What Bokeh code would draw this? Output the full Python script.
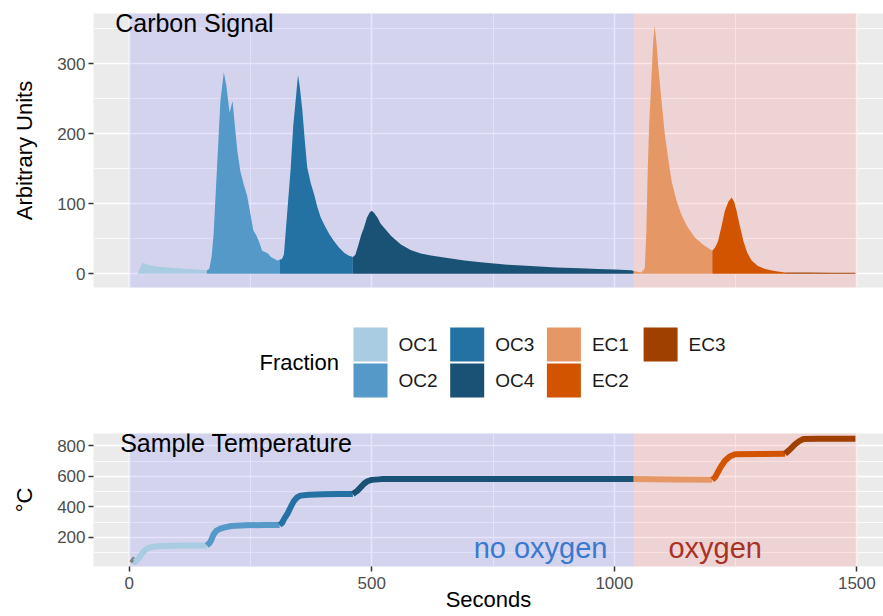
from bokeh.plotting import figure
from bokeh.layouts import column
from bokeh.models import Range1d, FixedTicker, Label
from bokeh.embed import file_html
from bokeh.resources import INLINE
from bokeh.core.properties import value

FONT = "Liberation Sans"

# ---------------- data ----------------
fractions = ["OC1", "OC2", "OC3", "OC4", "EC1", "EC2", "EC3"]
fraction_colors = ["#A9CCE3", "#5499C7", "#2471A3", "#1A5276", "#E59866", "#D35400", "#A04000"]
# fraction boundaries in seconds (start of OC1 ... end of EC3)
fraction_bounds = [10, 160, 310, 461, 1040, 1202, 1352, 1497]
oxygen_switch = 1040
run_end = 1500

# carbon signal (arbitrary units)
sig_t = [18, 22, 28, 34, 45, 60, 80, 100, 120, 140, 160,
         165, 170, 174, 181, 188, 195, 200, 207, 213, 218, 223, 229, 236, 243, 250, 256, 262, 268, 274, 280, 286, 292, 300, 305, 310,
         315, 319, 326, 333, 338, 343, 348, 352, 357, 362, 367, 374, 381, 388, 395, 405, 413, 422, 432, 443, 452, 461,
         466, 472, 478, 484, 490, 496, 500, 505, 512, 518, 525, 540, 560, 580, 601, 622, 663, 691, 730, 780, 828, 880, 930, 966, 1000, 1035, 1040,
         1055, 1060, 1063, 1066, 1069, 1072, 1076, 1080, 1083, 1087, 1090, 1094, 1099, 1104, 1111, 1118, 1128, 1138, 1150, 1166, 1184, 1202,
         1208, 1214, 1221, 1228, 1235, 1242, 1247, 1252, 1259, 1266, 1274, 1283, 1296, 1311, 1330, 1352,
         1400, 1450, 1497]
sig_y = [0, 8, 16, 14, 12, 10, 9, 8, 7, 6, 5,
         7, 25, 57, 152, 247, 288, 270, 230, 247, 210, 175, 147, 128, 112, 85, 62, 55, 45, 33, 31, 29, 24, 21, 19, 20,
         21, 28, 90, 152, 210, 247, 284, 265, 233, 190, 152, 130, 114, 95, 80, 66, 56, 47, 38, 30, 26, 24,
         27, 40, 55, 66, 80, 88, 90, 87, 80, 72, 66, 54, 42, 34, 29, 26, 22, 19, 16, 13, 11, 9, 8, 7, 6, 5, 4,
         2, 5, 9, 60, 152, 215, 271, 330, 354, 330, 300, 271, 235, 200, 165, 133, 105, 85, 68, 52, 41, 33,
         38, 47, 68, 90, 103, 109, 103, 90, 68, 47, 30, 19, 11, 7, 4, 2,
         2, 1.5, 1.5]

# sample temperature (deg C)
temp_t = [4, 10,
          12, 20, 30, 38, 45, 60, 90, 120, 150, 160,
          166, 170, 174, 180, 188, 195, 210, 240, 280, 310,
          315, 320, 326, 333, 340, 346, 353, 370, 400, 430, 461,
          470, 477, 484, 491, 500, 520, 600, 800, 1040,
          1120, 1202,
          1208, 1214, 1220, 1228, 1238, 1249, 1300, 1352,
          1360, 1373, 1382, 1390, 1420, 1497]
temp_c = [60, 46,
          40, 65, 110, 130, 137, 143, 146, 147, 148, 148,
          165, 190, 220, 245, 258, 265, 275, 280, 282, 282,
          295, 325, 354, 400, 441, 462, 474, 480, 483, 484, 485,
          505, 528, 552, 568, 577, 582, 583, 582, 582,
          580, 578,
          595, 630, 665, 702, 730, 745, 747, 748,
          770, 811, 832, 844, 846, 846]

x_ticks = [0, 500, 1000, 1500]
x_minor = [250, 750, 1250]
sig_ticks = [0, 100, 200, 300]
sig_minor = [50, 150, 250, 350]
temp_ticks = [200, 400, 600, 800]
temp_minor = [100, 300, 500, 700]


def segment(ts, vs, lo, hi):
    pts = [(t, v) for t, v in zip(ts, vs) if lo <= t <= hi]
    return [p[0] for p in pts], [p[1] for p in pts]


def style(p, yticks, yminor):
    p.background_fill_color = "#ebebeb"
    p.border_fill_color = "white"
    p.outline_line_color = None
    p.xaxis.ticker = FixedTicker(ticks=x_ticks, minor_ticks=x_minor)
    p.yaxis.ticker = FixedTicker(ticks=yticks, minor_ticks=yminor)
    p.xgrid.ticker = FixedTicker(ticks=x_ticks, minor_ticks=x_minor)
    p.ygrid.ticker = FixedTicker(ticks=yticks, minor_ticks=yminor)
    for g in (p.xgrid, p.ygrid):
        g.grid_line_color = "white"
        g.grid_line_width = 1.6
        g.minor_grid_line_color = "white"
        g.minor_grid_line_width = 0.8
    for ax in (p.xaxis, p.yaxis):
        ax.axis_line_color = None
        ax.major_tick_out = 5
        ax.major_tick_in = 0
        ax.minor_tick_out = 0
        ax.minor_tick_in = 0
        ax.major_tick_line_color = "#333333"
        ax.major_tick_line_width = 1.5
        ax.major_label_text_font = FONT
        ax.major_label_text_font_size = "17px"
        ax.major_label_text_color = "#4d4d4d"
        ax.axis_label_text_font = FONT
        ax.axis_label_text_font_size = "22px"
        ax.axis_label_text_font_style = "normal"
        ax.axis_label_text_color = "black"
    p.yaxis.major_label_standoff = 3
    p.yaxis.axis_label_standoff = 17


def shading(p):
    p.quad(left=[0], right=[oxygen_switch], bottom=[-10000], top=[10000],
           fill_color="blue", fill_alpha=0.1, line_color=None)
    p.quad(left=[oxygen_switch], right=[run_end], bottom=[-10000], top=[10000],
           fill_color="red", fill_alpha=0.1, line_color=None)


W = 883
BL = 93
XR = (-73.6, 1554.9)

# ---------------- top: carbon signal ----------------
p1 = figure(width=W, height=293, x_range=Range1d(*XR), y_range=Range1d(-19.6, 371.9),
            output_backend="svg", toolbar_location=None,
            min_border_left=BL, min_border_right=0, min_border_top=13, min_border_bottom=6)
style(p1, sig_ticks, sig_minor)
p1.xaxis.visible = False
p1.yaxis.axis_label = "Arbitrary Units"
shading(p1)
for i, (name, col) in enumerate(zip(fractions, fraction_colors)):
    st, sy = segment(sig_t, sig_y, fraction_bounds[i], fraction_bounds[i + 1])
    p1.varea(x=st, y1=[0] * len(st), y2=sy, fill_color=col)
p1.add_layout(Label(x=-28.9, y=358.5, text="Carbon Signal", text_font=FONT, text_font_size="25px",
                    text_color="black", text_baseline="alphabetic"))

# ---------------- legend (coordinates in page pixels) ----------------
LT, LB = 293, 415
leg = figure(width=W, height=LB - LT, x_range=Range1d(BL, W), y_range=Range1d(LB, LT),
             output_backend="svg", toolbar_location=None,
             min_border_left=BL, min_border_right=0, min_border_top=0, min_border_bottom=0,
             x_axis_location=None, y_axis_location=None)
leg.grid.visible = False
leg.outline_line_color = None
leg.background_fill_color = "white"
col_x0, col_dx, row_y0, row_dy, key = 370, 96.7, 344, 36, 34
kx, ky, lx = [], [], []
for i in range(len(fractions)):
    c, r = divmod(i, 2)
    kx.append(col_x0 + c * col_dx)
    ky.append(row_y0 + r * row_dy)
    lx.append(col_x0 + c * col_dx + 28)
leg.rect(x=kx, y=ky, width=key, height=key, fill_color=fraction_colors, line_color=None)
leg.text(x=lx, y=ky, text=fractions, text_font=value(FONT), text_font_size="19px",
         text_color="#1a1a1a", text_baseline="middle", text_align="left")
leg.text(x=[259], y=[(ky[0] + ky[1]) / 2], text=["Fraction"], text_font=value(FONT),
         text_font_size="22px", text_color="black", text_baseline="middle", text_align="left")

# ---------------- bottom: temperature ----------------
p2 = figure(width=W, height=616 - LB, x_range=Range1d(*XR), y_range=Range1d(10.2, 880.5),
            output_backend="svg", toolbar_location=None,
            min_border_left=BL, min_border_right=0, min_border_top=18, min_border_bottom=50)
style(p2, temp_ticks, temp_minor)
p2.xaxis.axis_label = "Seconds"
p2.xaxis.major_label_standoff = 5
p2.xaxis.axis_label_standoff = -5
p2.yaxis.axis_label = "°C"
shading(p2)
pt, pc = segment(temp_t, temp_c, 0, fraction_bounds[0])
p2.line(pt, pc, line_width=6, color="#808080")
for i, col in enumerate(fraction_colors):
    tt, tc = segment(temp_t, temp_c, fraction_bounds[i], fraction_bounds[i + 1])
    p2.line(tt, tc, line_width=6, color=col, line_join="round")
p2.add_layout(Label(x=-18.6, y=817, text="Sample Temperature", text_font=FONT, text_font_size="25px",
                    text_color="black", text_baseline="alphabetic"))
p2.add_layout(Label(x=848, y=134, text="no oxygen", text_font=FONT, text_font_size="29px",
                    text_color="#3979cf", text_baseline="middle", text_align="center"))
p2.add_layout(Label(x=1208, y=134, text="oxygen", text_font=FONT, text_font_size="29px",
                    text_color="#a93226", text_baseline="middle", text_align="center"))

layout = column(p1, leg, p2, spacing=0)
open("out.html", "w").write(file_html(layout, INLINE))
